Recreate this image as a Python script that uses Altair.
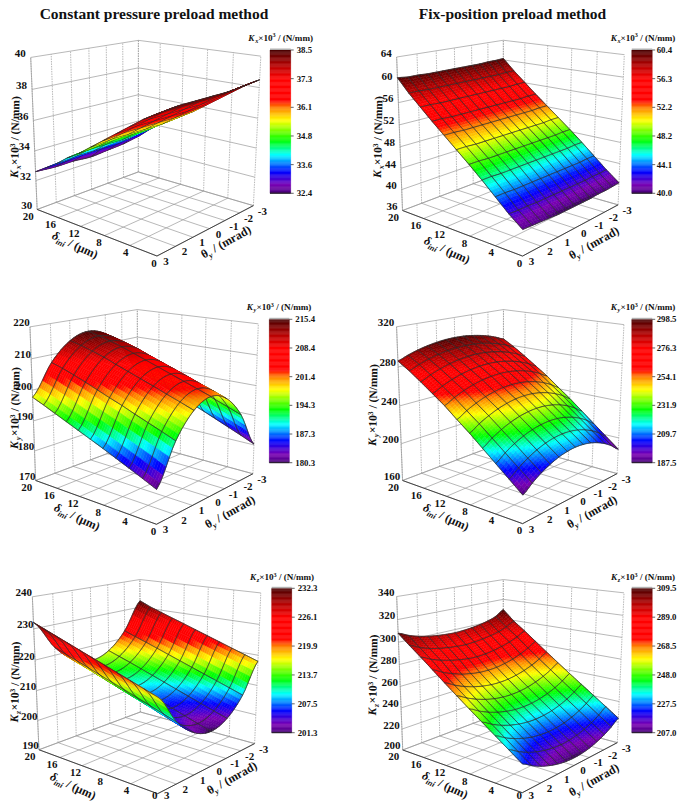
import altair as alt
import numpy as np
import pandas as pd

alt.data_transformers.disable_max_rows()

FONT = "Liberation Serif"
W, H = 669, 793

# ---- surface values, one row per delta_ini (0,2,...,20), columns theta_y from -3 to 3
KX_CP = [
 [38.5,38.4,38.3,38.3,38.3,38.3,38.2],
 [38.0,37.9,37.8,37.8,37.8,37.8,37.7],
 [37.4,37.3,37.2,37.2,37.2,37.2,37.1],
 [36.8,36.7,36.6,36.6,36.6,36.6,36.5],
 [36.2,36.1,36.0,36.0,36.0,36.0,35.9],
 [35.6,35.5,35.4,35.4,35.4,35.4,35.3],
 [35.1,35.0,34.9,34.9,34.9,34.8,34.7],
 [34.6,34.5,34.4,34.3,34.3,34.3,34.2],
 [34.1,34.0,33.8,33.8,33.7,33.7,33.6],
 [33.5,33.4,33.2,33.2,33.2,33.1,33.1],
 [32.8,32.6,32.5,32.4,32.5,32.5,32.6],
]
KY_CP = [
 [180.3,192.1,199.1,201.5,199.1,192.1,180.3],
 [182.2,193.8,200.7,203.0,200.7,193.8,182.2],
 [184.0,195.4,202.2,204.5,202.2,195.4,184.0],
 [185.8,197.0,203.8,206.0,203.8,197.0,185.8],
 [187.6,198.7,205.3,207.5,205.3,198.7,187.6],
 [189.3,200.2,206.8,209.0,206.8,200.2,189.3],
 [191.0,201.8,208.3,210.5,208.3,201.8,191.0],
 [192.7,203.4,209.9,212.0,209.9,203.4,192.7],
 [194.4,204.9,211.2,213.3,211.2,204.9,194.4],
 [196.1,206.3,212.4,214.4,212.4,206.3,196.1],
 [197.7,207.5,213.4,215.4,213.4,207.5,197.7],
]
KZ_CP = [
 [218.0,208.7,203.2,201.3,203.2,208.7,218.0],
 [219.4,210.1,204.5,202.6,204.5,210.1,219.4],
 [220.8,211.5,205.9,204.0,205.9,211.5,220.8],
 [222.2,212.9,207.3,205.4,207.3,212.9,222.2],
 [223.6,214.3,208.7,206.8,208.7,214.3,223.6],
 [225.0,215.7,210.1,208.2,210.1,215.7,225.0],
 [226.4,217.1,211.5,209.6,211.5,217.1,226.4],
 [227.8,218.5,212.9,211.0,212.9,218.5,227.8],
 [229.2,219.9,214.3,212.4,214.3,219.9,229.2],
 [230.6,221.2,215.6,213.7,215.6,221.2,230.6],
 [232.3,222.6,216.9,215.0,216.9,222.6,232.0],
]
KX_FP = [
 [40.3,40.2,40.1,40.1,40.0,40.0,40.0,40.0,40.0,40.1,40.2,40.3,40.4],
 [42.2,42.1,42.1,42.0,42.0,42.0,42.0,42.0,42.0,42.0,42.1,42.1,42.2],
 [44.3,44.3,44.2,44.2,44.2,44.2,44.2,44.2,44.2,44.2,44.2,44.3,44.3],
 [46.4,46.4,46.3,46.3,46.3,46.3,46.3,46.3,46.3,46.3,46.3,46.4,46.4],
 [48.4,48.4,48.3,48.3,48.3,48.3,48.3,48.3,48.3,48.3,48.3,48.4,48.4],
 [50.3,50.3,50.2,50.2,50.2,50.2,50.2,50.2,50.2,50.2,50.2,50.3,50.3],
 [52.2,52.2,52.1,52.1,52.1,52.1,52.1,52.1,52.1,52.1,52.1,52.2,52.2],
 [54.1,54.1,54.0,54.0,54.0,54.0,54.0,54.0,54.0,54.0,54.0,54.1,54.1],
 [56.1,56.1,56.0,56.0,56.0,56.0,56.0,56.0,56.0,56.0,56.0,56.1,56.1],
 [58.1,58.1,58.0,58.0,58.0,58.0,58.0,58.0,58.0,58.0,58.0,58.1,58.1],
 [60.3,60.2,60.2,60.1,60.1,60.1,60.1,60.1,60.1,60.1,60.2,60.2,60.4],
]
KY_FP = [
 [187.5,194.7,200.6,205.1,208.4,210.3,211.0,210.3,208.4,205.1,200.6,194.7,187.5],
 [198.5,205.4,211.0,215.4,218.5,220.4,221.0,220.4,218.5,215.4,211.0,205.4,198.5],
 [209.5,216.1,221.5,225.6,228.6,230.4,231.0,230.4,228.6,225.6,221.5,216.1,209.5],
 [220.5,226.8,231.9,235.9,238.7,240.4,241.0,240.4,238.7,235.9,231.9,226.8,220.5],
 [231.5,237.5,242.3,246.1,248.8,250.5,251.0,250.5,248.8,246.1,242.3,237.5,231.5],
 [241.5,247.2,251.8,255.4,257.9,259.5,260.0,259.5,257.9,255.4,251.8,247.2,241.5],
 [252.0,257.2,261.5,264.8,267.1,268.5,269.0,268.5,267.1,264.8,261.5,257.2,252.0],
 [261.0,265.9,269.9,273.0,275.2,276.6,277.0,276.6,275.2,273.0,269.9,265.9,261.0],
 [270.0,274.6,278.3,281.3,283.3,284.6,285.0,284.6,283.3,281.3,278.3,274.6,270.0],
 [278.5,282.6,286.0,288.6,290.5,291.6,292.0,291.6,290.5,288.6,286.0,282.6,278.5],
 [286.0,289.8,293.0,295.4,297.1,298.2,298.5,298.2,297.1,295.4,293.0,289.8,286.0],
]
KZ_FP = [
 [224.0,218.8,214.5,211.3,208.9,207.5,207.0,207.5,208.9,211.3,214.5,218.8,224.0],
 [232.2,227.1,222.9,219.7,217.4,216.0,215.5,216.0,217.4,219.7,222.9,227.1,232.2],
 [240.4,235.4,231.3,228.1,225.8,224.5,224.0,224.5,225.8,228.1,231.3,235.4,240.4],
 [248.6,243.7,239.6,236.5,234.3,233.0,232.5,233.0,234.3,236.5,239.6,243.7,248.6],
 [256.8,252.0,248.0,245.0,242.8,241.4,241.0,241.4,242.8,245.0,248.0,252.0,256.8],
 [265.2,260.5,256.6,253.6,251.4,250.1,249.7,250.1,251.4,253.6,256.6,260.5,265.2],
 [273.7,269.0,265.2,262.3,260.2,258.9,258.5,258.9,260.2,262.3,265.2,269.0,273.7],
 [282.4,277.8,274.1,271.2,269.2,267.9,267.5,267.9,269.2,271.2,274.1,277.8,282.4],
 [291.1,287.0,283.9,281.5,279.7,278.5,278.0,278.5,279.7,281.5,283.9,287.0,291.1],
 [299.3,295.3,292.3,290.3,288.9,288.0,287.5,288.0,288.9,290.3,292.3,295.3,299.3],
 [309.5,304.2,301.4,299.5,298.2,297.4,297.0,297.4,298.2,299.5,301.4,304.2,308.0],
]

# ---- axis ticks
DELTA_TICKS = [20, 16, 12, 8, 4, 0]
THETA_TICKS = [3, 2, 1, 0, -1, -2, -3]
PANELS = [
 dict(tab=KX_CP, sub="x", zt=[30,32,34,36,38,40], zoff=-10.5, cboff=6,
      cb=["38.5","37.3","36.1","34.8","33.6","32.4"], lo=32.4, hi=38.5,
      L=(37.7,209),F=(156,257),R=(254,204),B=(138,173),TL=(31,57),TB=(138,40),TR=(261,57),
      bar=(270,290.7,50,193.3), cbt=(280.7,37.7), yt=(15,137), dl=(75,245), tl=(226,242)),
 dict(tab=KX_FP, sub="x", zt=[36,40,44,48,52,56,60,64], zoff=-10.5, cboff=4.5,
      cb=["60.4","56.3","52.2","48.2","44.1","40.0"], lo=40.0, hi=60.4,
      L=(402.7,210),F=(522.3,256.7),R=(618.3,204),B=(503.3,173),TL=(396.7,57),TB=(503.3,40),TR=(624.3,55),
      bar=(631.8,652.2,50,193.3), cbt=(643,37.7), yt=(378,137), dl=(447,250), tl=(594,243)),
 dict(tab=KY_CP, sub="y", zt=[170,180,190,200,210,220], zoff=-8.5, cboff=6,
      cb=["215.4","208.4","201.4","194.3","187.3","180.3"], lo=180.3, hi=215.4,
      L=(36,480),F=(156,525),R=(253.3,472.7),B=(137.3,443),TL=(30,326.7),TB=(137.3,309.3),TR=(258.3,324.3),
      bar=(269.3,289.3,319.3,462.7), cbt=(279,307), yt=(15,408), dl=(77,517), tl=(230,512)),
 dict(tab=KY_FP, sub="y", zt=[160,200,240,280,320], zoff=-10.5, cboff=4.5,
      cb=["298.5","276.3","254.1","231.9","209.7","187.5"], lo=187.5, hi=298.5,
      L=(402.7,480),F=(522.3,524.3),R=(617.3,472.7),B=(503.3,443),TL=(396.7,326.7),TB=(503.3,309.3),TR=(624,325),
      bar=(631.8,652.2,319.3,462.7), cbt=(643,307), yt=(373,405), dl=(446,517), tl=(592,512)),
 dict(tab=KZ_CP, sub="z", zt=[190,200,210,220,230,240], zoff=-8.5, cboff=6,
      cb=["232.3","226.1","219.9","213.7","207.5","201.3"], lo=201.3, hi=232.3,
      L=(39.3,749.3),F=(157.3,794.3),R=(255,742.7),B=(140,712.7),TL=(32.3,596.7),TB=(140,579.3),TR=(260.7,593.3),
      bar=(271.7,291.7,588.3,732.7), cbt=(282,577), yt=(15,682), dl=(73,786), tl=(232,778)),
 dict(tab=KZ_FP, sub="z", zt=[200,220,240,260,280,300,320,340], zoff=-10.5, cboff=4.5,
      cb=["309.5","289.0","268.5","248.0","227.5","207.0"], lo=207.0, hi=309.5,
      L=(402.7,749.3),F=(522.3,793.3),R=(617.3,742),B=(503.3,712.7),TL=(396.7,596.7),TB=(503.3,579.3),TR=(624,593),
      bar=(631.8,652.2,588.3,732.7), cbt=(643,577), yt=(373,675), dl=(445,785), tl=(594,780)),
]
COLUMN_TITLES = [("Constant pressure preload method", 154), ("Fix-position preload method", 512.5)]

# colormap of the colour bars (t = 0 bottom, 1 top); t = -1 is the mesh line colour
STOPS = [-1, -0.001, 0, 0.015, 0.06, 0.15, 0.27, 0.37, 0.51, 0.60, 0.65, 0.80, 0.90, 1]
COLS = ["#303030", "#303030", "#2a0a3a", "#55008c", "#7a00b4", "#0000ff", "#00ffff", "#00ff00",
        "#ffff00", "#ff8000", "#ff0000", "#ff0000", "#b00000", "#4a0000"]
CSCALE = alt.Scale(domain=STOPS, range=COLS, interpolate="rgb", clamp=True)

CAM = np.array([-3.25, -3.25, 2.4])
SUBD = 6


def fit_camera(p):
    pts3 = [(0,1,0,p["L"]),(0,0,0,p["F"]),(1,0,0,p["R"]),(1,1,0,p["B"]),
            (0,1,1,p["TL"]),(1,1,1,p["TB"]),(1,0,1,p["TR"])]
    rows = []
    for a,b,c,(x,y) in pts3:
        rows.append([a,b,c,1,0,0,0,0,-x*a,-x*b,-x*c,-x])
        rows.append([0,0,0,0,a,b,c,1,-y*a,-y*b,-y*c,-y])
    _,_,vt = np.linalg.svd(np.array(rows,float))
    return vt[-1].reshape(3,4)


def proj(M, a, b, c):
    v = M @ np.array([a,b,c,1.0])
    return v[0]/v[2], v[1]/v[2]


def catmull(row, s):
    row = np.asarray(row,float)
    n = len(row)
    out = []
    for i in range(n-1):
        p0 = row[max(i-1,0)]; p1=row[i]; p2=row[i+1]; p3=row[min(i+2,n-1)]
        for k in range(s):
            u=k/s
            out.append(0.5*((2*p1)+(-p0+p2)*u+(2*p0-5*p1+4*p2-p3)*u*u+(-p0+3*p1-3*p2+p3)*u**3))
    out.append(row[-1])
    return np.array(out)


# character widths of the bold serif face, for laying out mixed-style labels
CW = {" ":.25,"/":.278,"(":.333,")":.333,"×":.57,"N":.722,"m":.833,"K":.75,"x":.5,"y":.5,"z":.42,"i":.278,"n":.556,
      "r":.444,"a":.5,"d":.556,"μ":.556,"δ":.5,"θ":.5,"1":.5,"0":.5,"3":.5}


def rich(cx, cy, pieces, angle):
    """pieces: (text, size, italic, shift); returns text rows centred on cx,cy."""
    total = sum(sum(CW.get(ch,.5) for ch in t)*s for t,s,_,_ in pieces)
    r = np.radians(angle)
    ux,uy = np.cos(r),np.sin(r)
    nx,ny = -uy,ux
    pos = -total/2
    rows=[]
    base = pieces[0][1]*0.33
    for t,s,it,sh in pieces:
        stripped = t.lstrip(" ")
        start = pos + (len(t)-len(stripped))*CW[" "]*s
        rows.append(dict(x=cx+ux*start+nx*(sh+base)-8, y=cy+uy*start+ny*(sh+base)-8, text=stripped, size=s, angle=angle%360, italic=it))
        pos += sum(CW.get(ch,.5) for ch in t)*s
    return rows


features=[]; wall_dot=[]; grid=[]; axes_l=[]; ticks=[]; bars=[]; ticklabels=[]; richrows=[]; greystrip=[]; blackline=[]
for p in PANELS:
    M = fit_camera(p)
    tab = np.array(p["tab"],float)
    ncol = tab.shape[1]
    st = 6 if ncol==7 else 3
    fine = np.array([catmull(r,st) for r in tab])
    # finer along delta (drawing resolution of the colour gradient)
    nr = fine.shape[0]
    Z = np.vstack([fine[i]+(fine[i+1]-fine[i])*k/SUBD for i in range(nr-1) for k in range(SUBD)]+[fine[-1]])
    zmin,zmax = p["zt"][0],p["zt"][-1]
    ni,nj = Z.shape
    panel=[]
    def cube(i,j):
        return (1-j/(nj-1), i/(ni-1), (Z[i,j]-zmin)/(zmax-zmin))
    P = [[proj(M,*cube(i,j)) for j in range(nj)] for i in range(ni)]
    Q = np.array([[cube(i,j) for j in range(nj)] for i in range(ni)])
    for i in range(ni-1):
        for j in range(nj-1):
            mid = Q[i:i+2,j:j+2].reshape(-1,3).mean(0)
            d = np.linalg.norm(mid-CAM)
            t = float(np.clip((Z[i:i+2,j:j+2].mean()-p["lo"])/(p["hi"]-p["lo"]),0,1))
            ring=[P[i][j],P[i][j+1],P[i+1][j+1],P[i+1][j],P[i][j]]
            ring=[[round(x-8,2),round(y-8,2)] for x,y in ring]
            panel.append((d,{"type":"Feature","properties":{"t":round(t,3)},"geometry":{"type":"Polygon","coordinates":[ring]}}))
    def seg(i0,j0,i1,j1):
        a=np.array(P[i0][j0]);b=np.array(P[i1][j1])
        n=b-a; L=np.hypot(*n)
        if L<1e-6: return
        n=np.array([-n[1],n[0]])/L*0.05
        ring=[a+n,b+n,b-n,a-n,a+n]
        ring=[[round(x-8,2),round(y-8,2)] for x,y in ring]
        d=np.linalg.norm((Q[i0,j0]+Q[i1,j1])/2-CAM)-0.04
        panel.append((d,{"type":"Feature","properties":{"t":-1},"geometry":{"type":"Polygon","coordinates":[ring]}}))
    for j in range(0,nj,st):
        for i in range(0,ni-1,3): seg(i,j,i+3,j)
    for i in range(0,ni,SUBD):
        for j in range(nj-1): seg(i,j,i,j+1)
    panel.sort(key=lambda r:-r[0])
    features += [f for _,f in panel]

    def rule(target,a0,b0,c0,a1,b1,c1):
        x0,y0=proj(M,a0,b0,c0);x1,y1=proj(M,a1,b1,c1)
        target.append(dict(x=x0-8,y=y0-8,x2=x1-8,y2=y1-8))
    for th in THETA_TICKS:
        a=(3-th)/6
        rule(grid,a,0,0,a,1,0)
        rule(wall_dot,a,1,0,a,1,1)
    for de in DELTA_TICKS:
        b=de/20
        rule(grid,0,b,0,1,b,0)
        rule(wall_dot,1,b,0,1,b,1)
    for z in p["zt"]:
        c=(z-zmin)/(zmax-zmin)
        rule(grid,0,1,c,1,1,c)
        rule(grid,1,1,c,1,0,c)
        x,y=proj(M,0,1,c)
        ticklabels.append(dict(x=x+p["zoff"]-8,y=y-3.5-8,text=str(z),size=11))
    rule(axes_l,0,1,0,0,0,0); rule(axes_l,0,0,0,1,0,0)
    rule(grid,0,1,0,0,1,1)
    for de in DELTA_TICKS:
        x,y=proj(M,0,de/20,0)
        ticklabels.append(dict(x=x-3-de*0.3-8,y=min(y+7.5,796)-8,text=str(de),size=11))
    for th in THETA_TICKS:
        x,y=proj(M,(3-th)/6,0,0)
        ticklabels.append(dict(x=x+9-8,y=min(y+6,796)-8,text=str(th),size=11))
    # colour bar
    x0,x1,y0,y1=p["bar"]
    N=120
    for k in range(N):
        bars.append(dict(x=x0-8,x2=x1-8,y=y1-(y1-y0)*k/N-8,y2=y1-(y1-y0)*(k+1)/N-8,t=(k+.5)/N))
    greystrip.append(dict(x=x0-8,x2=x1-8,y=y0-9.5,y2=y0-8))
    blackline.append(dict(x=x0-8,x2=x1-8,y=y1-8,y2=y1-8))
    for k,lab in enumerate(p["cb"]):
        yy=y0+(y1-y0)*k/5
        ticks.append(dict(x=x1-8,x2=x1+3-8,y=yy-8,y2=yy-8))
        ticklabels.append(dict(x=x1+p["cboff"]-8,y=yy-8,text=lab,size=8.8,left=True))
    s=p["sub"]
    richrows += rich(*p["cbt"],[("K",9.1,True,0),(s,6.2,True,2),("×10",9.1,False,0),("3",6.2,False,-3.5),(" / (N/mm)",9.1,False,0)],0)
    richrows += rich(*p["yt"],[("K",11.5,True,0),(s,8,True,2.5),("×10",11.5,False,0),("3",7.5,False,-3.5),(" / (N/mm)",11.5,False,0)],271)
    richrows += rich(*p["dl"],[("δ",12,True,0),("ini",8,True,3),(" / (μm)",12,False,0)],25)
    richrows += rich(*p["tl"],[("θ",12,False,0),("y",8,True,3),(" / (mrad)",12,False,0)],-29)

X = lambda f="x": alt.X(f"{f}:Q", scale=alt.Scale(domain=[0,W]), axis=None)
Y = lambda f="y": alt.Y(f"{f}:Q", scale=alt.Scale(domain=[H,0]), axis=None)
X2 = alt.X2("x2:Q"); Y2 = alt.Y2("y2:Q")


def rules(rows, **kw):
    return alt.Chart(pd.DataFrame(rows)).mark_rule(**kw).encode(x=X(),y=Y(),x2=X2,y2=Y2)


layers = [
    rules(wall_dot, color="#999999", strokeWidth=0.7, strokeDash=[1.5,1]),
    rules(grid, color="#999999", strokeWidth=0.7),
    rules(axes_l, color="#444444", strokeWidth=1),
    alt.Chart(alt.InlineData(values=features)).mark_geoshape(strokeWidth=0.45).encode(
        fill=alt.Fill("properties.t:Q", scale=CSCALE, legend=None),
        stroke=alt.Stroke("properties.t:Q", scale=CSCALE, legend=None),
    ).project(type="identity", scale=1, translate=[0,0]),
    alt.Chart(pd.DataFrame(bars)).mark_rect(strokeWidth=0.4).encode(
        x=X(),x2=X2,y=Y(),y2=Y2,
        fill=alt.Fill("t:Q",scale=CSCALE,legend=None),
        stroke=alt.Stroke("t:Q",scale=CSCALE,legend=None)),
    alt.Chart(pd.DataFrame(greystrip)).mark_rect(color="#b0b0b0").encode(x=X(),x2=X2,y=Y(),y2=Y2),
    rules(blackline, color="#111111", strokeWidth=0.8),
    rules(ticks, color="#222222", strokeWidth=0.7),
]

tl = pd.DataFrame(ticklabels)
tl["left"] = tl["left"].eq(True)
layers.append(alt.Chart(tl[~tl.left]).mark_text(font=FONT,fontWeight="bold",align="center",baseline="middle",color="#111111").encode(
    x=X(),y=Y(),text="text:N",size=alt.Size("size:Q",scale=None)))
layers.append(alt.Chart(tl[tl.left]).mark_text(font=FONT,fontWeight="bold",align="left",baseline="middle",color="#111111").encode(
    x=X(),y=Y(),text="text:N",size=alt.Size("size:Q",scale=None)))
rr = pd.DataFrame(richrows)
for it,sty in [(True,"italic"),(False,"normal")]:
    layers.append(alt.Chart(rr[rr.italic==it]).mark_text(font=FONT,fontWeight="bold",fontStyle=sty,align="left",baseline="alphabetic",color="#111111").encode(
        x=X(),y=Y(),text="text:N",size=alt.Size("size:Q",scale=None),angle=alt.Angle("angle:Q",scale=None)))
tt = pd.DataFrame([dict(x=cx-8,y=19-8,text=t) for t,cx in COLUMN_TITLES])
layers.append(alt.Chart(tt).mark_text(font=FONT,fontWeight="bold",fontSize=15.5,align="center",baseline="alphabetic",color="#111111").encode(
    x=X(),y=Y(),text="text:N"))

chart = alt.layer(*layers).properties(
    width=W,height=H,padding=0,autosize=alt.AutoSizeParams(type="none"),background="white"
).configure_view(stroke=None)

chart.save("out.html", embed_options={"renderer":"svg","actions":False})
